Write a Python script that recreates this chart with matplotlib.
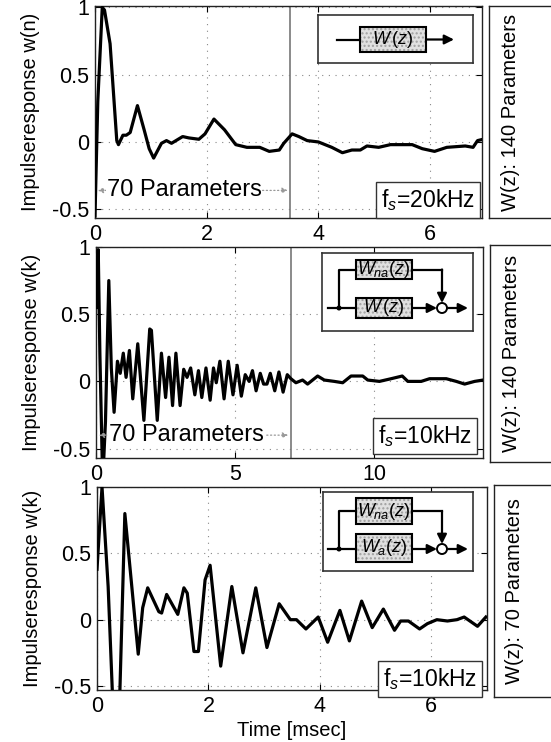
import matplotlib
matplotlib.use("Agg")
import matplotlib.pyplot as plt
from matplotlib.patches import Rectangle, Circle

plt.rcParams['font.family'] = ['Liberation Sans', 'DejaVu Sans']
plt.rcParams['mathtext.fontset'] = 'custom'
plt.rcParams['mathtext.rm'] = 'Liberation Sans'
plt.rcParams['mathtext.it'] = 'Liberation Sans:italic'
plt.rcParams['axes.unicode_minus'] = False

# ---------------- data ----------------
t1 = [0.0, 0.05, 0.13, 0.17, 0.27, 0.39, 0.42, 0.5, 0.56, 0.63, 0.76, 0.88, 0.97, 1.05,
      1.19, 1.28, 1.37, 1.45, 1.57, 1.68, 1.86, 1.97, 2.13, 2.32, 2.52, 2.72, 2.95, 3.12,
      3.3, 3.38, 3.53, 3.65, 3.8, 4.0, 4.24, 4.43, 4.6, 4.75, 4.87, 5.08, 5.29, 5.68,
      5.86, 6.08, 6.3, 6.63, 6.77, 6.85, 6.95]
w1 = [-0.55, 0.3, 1.0, 0.98, 0.73, 0.01, -0.02, 0.05, 0.05, 0.07, 0.27, 0.09, -0.05, -0.12,
      -0.01, 0.01, -0.01, 0.01, 0.04, 0.03, 0.02, 0.06, 0.17, 0.09, -0.02, -0.04, -0.04, -0.07,
      -0.06, -0.01, 0.06, 0.04, 0.01, 0.0, -0.04, -0.08, -0.06, -0.06, -0.03, -0.04, -0.02, -0.02,
      -0.05, -0.07, -0.04, -0.03, -0.04, 0.01, 0.02]

t2 = [0.0, 0.08, 0.14, 0.24, 0.34, 0.46, 0.55, 0.65, 0.77, 0.87, 0.98, 1.08, 1.2, 1.32,
      1.5, 1.72, 1.93, 1.99, 2.2, 2.35, 2.5, 2.62, 2.75, 2.87, 3.02, 3.15, 3.27, 3.4, 3.55,
      3.68, 3.8, 3.95, 4.1, 4.22, 4.32, 4.45, 4.6, 4.75, 4.92, 5.07, 5.22, 5.36, 5.5, 5.62,
      5.75, 5.9, 6.02, 6.14, 6.26, 6.42, 6.57, 6.72, 6.87, 7.0, 7.18, 7.42, 7.6, 7.96, 8.2,
      8.56, 8.86, 9.16, 9.58, 9.76, 10.18, 10.6, 11.0, 11.2, 11.68, 11.98, 12.58, 12.94,
      13.24, 13.6, 13.9]
w2 = [0.55, 0.98, 0.2, -0.75, -0.3, 0.75, 0.1, -0.23, 0.15, 0.06, 0.21, 0.03, 0.23, -0.13,
      0.28, -0.29, 0.39, 0.38, -0.29, 0.21, -0.12, 0.18, -0.18, 0.21, -0.18, 0.09, 0.03, 0.1,
      -0.1, 0.08, -0.12, 0.1, -0.14, 0.1, -0.01, 0.15, -0.13, 0.15, -0.1, 0.12, -0.11, 0.05,
      0.0, 0.08, -0.07, 0.06, -0.02, -0.02, 0.06, -0.07, 0.07, -0.08, 0.05, 0.02, -0.01, 0.01,
      -0.02, 0.04, 0.01, 0.0, -0.01, 0.04, 0.04, 0.01, 0.0, 0.02, 0.04, 0.0, 0.0, 0.02, 0.02,
      0.0, -0.02, 0.0, 0.01]

t3 = [0.0, 0.09, 0.2, 0.3, 0.4, 0.5, 0.74, 0.82, 0.91, 1.11, 1.16, 1.25, 1.45, 1.56, 1.62,
      1.74, 1.82, 1.94, 2.03, 2.22, 2.42, 2.62, 2.85, 3.05, 3.27, 3.47, 3.58, 3.75, 3.97,
      4.14, 4.36, 4.53, 4.75, 4.94, 5.14, 5.34, 5.45, 5.59, 5.79, 5.93, 6.1, 6.29, 6.46,
      6.59, 6.83, 6.98]
w3 = [0.38, 1.0, 0.25, -0.8, -0.7, 0.8, -0.26, 0.09, 0.24, 0.06, 0.05, 0.19, 0.04, 0.24, 0.2,
      -0.24, -0.24, 0.3, 0.41, -0.35, 0.25, -0.25, 0.24, -0.21, 0.12, 0.0, 0.0, -0.07, 0.02,
      -0.17, 0.07, -0.16, 0.14, -0.06, 0.08, -0.08, -0.01, -0.01, -0.07, -0.03, 0.0, -0.01, 0.0,
      0.02, -0.05, 0.02]

ylabels = ["Impulseresponse w(n)", "Impulseresponse w(k)", "Impulseresponse w(k)"]
side_titles = ["W(z): 140 Parameters", "W(z): 140 Parameters", "W(z): 70 Parameters"]
fs_labels = ["f$_s$=20kHz", "f$_s$=10kHz", "f$_s$=10kHz"]
param_label = "70 Parameters"
split_times = [3.5, 7.0]
xticks_list = [[0, 2, 4, 6], [0, 5, 10], [0, 2, 4, 6]]
yticks = [-0.5, 0, 0.5, 1]
xlims = [(0, 6.93), (0, 13.9), (0, 7.0)]
ylims = [(-0.565, 1.01), (-0.57, 1.0), (-0.53, 1.0)]

# ---------------- layout ----------------
W, H = 551, 742
fig = plt.figure(figsize=(W / 100, H / 100), dpi=100)


def rect(x0, y0, x1, y1):
    return [x0 / W, 1 - y1 / H, (x1 - x0) / W, (y1 - y0) / H]


main_rects = [rect(95, 6, 482, 218), rect(96, 247, 483, 458), rect(97, 487, 487, 690)]
side_rects = [rect(489, 6, 562, 218), rect(490, 245, 562, 462), rect(494, 485, 562, 697)]
series = [(t1, w1), (t2, w2), (t3, w3)]

axes = []
for i in range(3):
    ax = fig.add_axes(main_rects[i])
    t, w = series[i]
    ax.plot(t, w, color='black', lw=2.3, solid_joinstyle='round', zorder=3)
    ax.set_xlim(*xlims[i])
    ax.set_ylim(*ylims[i])
    ax.set_xticks(xticks_list[i])
    ax.set_yticks(yticks)
    ax.set_yticklabels(['-0.5', '0', '0.5', '1'])
    ax.tick_params(direction='in', length=4, top=True, right=True, labelsize=15.5, pad=4,
                   width=0.8)
    ax.grid(True, linestyle=(0, (1, 5)), color='#888888', lw=0.8)
    for s in ax.spines.values():
        s.set_linewidth(1.0)
        s.set_color('#222222')
    ax.set_ylabel(ylabels[i], fontsize=14.5, labelpad=9)
    axes.append(ax)

# split lines
axes[0].axvline(split_times[0], color='#777777', lw=1.2, zorder=2)
axes[1].axvline(split_times[1], color='#777777', lw=1.2, zorder=2)

# 70 parameter arrows
for ax, xend, yv, xt in [(axes[0], split_times[0], -0.36, 1.6), (axes[1], split_times[1], -0.40, 3.25)]:
    ax.annotate('', xy=(0, yv), xytext=(xend, yv),
                arrowprops=dict(arrowstyle='<|-|>', color='#999999', lw=0.9,
                                linestyle=(0, (1, 2)), mutation_scale=8), zorder=4)
    ax.text(xt, yv, param_label, fontsize=17, ha='center', va='center', zorder=5,
            bbox=dict(facecolor='white', edgecolor='none', pad=0.5))

# fs boxes (pixel centers)
fs_pos = [(428, 200), (425, 436), (430, 679)]
for (px, py), lab in zip(fs_pos, fs_labels):
    fig.text(px / W, 1 - py / H, lab, fontsize=16.5, ha='center', va='center',
             bbox=dict(boxstyle='square,pad=0.2', facecolor='white', edgecolor='#333333', lw=1.0))

axes[2].set_xlabel("Time [msec]", fontsize=14.5, labelpad=3)

# side title boxes
for i in range(3):
    sax = fig.add_axes(side_rects[i])
    sax.set_xticks([])
    sax.set_yticks([])
    for s in sax.spines.values():
        s.set_linewidth(1.0)
        s.set_color('#222222')
    sax.text(0.3, 0.5, side_titles[i], rotation=90, fontsize=14.5, ha='center', va='center',
             transform=sax.transAxes)


# ---------------- block diagrams ----------------
def diagram_axes(x0, y0, x1, y1):
    dax = fig.add_axes(rect(x0, y0, x1, y1))
    dax.set_xlim(x0, x1)
    dax.set_ylim(y1, y0)
    dax.set_xticks([])
    dax.set_yticks([])
    for s in dax.spines.values():
        s.set_linewidth(1.2)
        s.set_color('#333333')
    return dax


def block(dax, x0, y0, x1, y1, label):
    dax.add_patch(Rectangle((x0, y0), x1 - x0, y1 - y0, facecolor='#e0e0e0',
                            edgecolor='#a0a0a0', hatch='....', lw=0))
    dax.add_patch(Rectangle((x0, y0), x1 - x0, y1 - y0, fill=False, edgecolor='black', lw=1.5))
    dax.text((x0 + x1) / 2, (y0 + y1) / 2, label, fontsize=13, ha='center', va='center')


def arrow(dax, xa, ya, xb, yb):
    dax.annotate('', xy=(xb, yb), xytext=(xa, ya),
                 arrowprops=dict(arrowstyle='-|>', color='black', lw=1.6, mutation_scale=14,
                                 shrinkA=0, shrinkB=0))


# panel 1
d1 = diagram_axes(318, 15, 473, 63)
d1.plot([337, 360], [39.5, 39.5], color='black', lw=1.6)
block(d1, 360, 27, 426, 52, '$W\\,(z)$')
arrow(d1, 426, 39.5, 454, 39.5)


def parallel(dax, yna0, yna1, yw0, yw1, ymain, xcirc, low_label):
    block(dax, 356, yna0, 412, yna1, '$W_{na}(z)$')
    block(dax, 356, yw0, 412, yw1, low_label)
    ymid = (yna0 + yna1) / 2
    dax.plot([328, 356], [ymain, ymain], color='black', lw=1.6)
    dax.plot([339, 339, 356], [ymain, ymid, ymid], color='black', lw=1.6)
    dax.add_patch(Circle((339, ymain), 1.8, color='black'))
    dax.plot([412, xcirc], [ymid, ymid], color='black', lw=1.6)
    arrow(dax, xcirc, ymid, xcirc, ymain - 5)
    arrow(dax, 412, ymain, xcirc - 5, ymain)
    dax.add_patch(Circle((xcirc, ymain), 5, fill=False, edgecolor='black', lw=1.4))
    arrow(dax, xcirc + 5, ymain, 468, ymain)


d2 = diagram_axes(322, 253, 473, 331)
parallel(d2, 260, 279, 298, 318, 308, 442, '$W\\,(z)$')

d3 = diagram_axes(323, 492, 473, 571)
parallel(d3, 498, 524, 534, 562, 549, 442, '$W_{a}(z)$')

fig.savefig('out.png', dpi=100)
